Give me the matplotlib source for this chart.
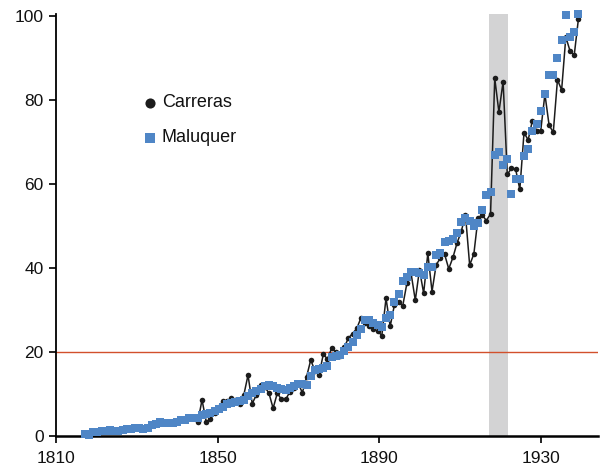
import matplotlib
matplotlib.use("Agg")
import matplotlib.pyplot as plt

plt.rcParams['font.family'] = ['Liberation Sans', 'DejaVu Sans']

# Maluquer index, 1817-1935
mal_years = list(range(1817, 1936))
mal_values = [
    0.5, 0.3, 1.0, 0.9, 1.2, 1.3, 1.4, 1.3, 1.1, 1.5,   # 1817-1826
    1.7, 1.7, 1.8, 1.8, 1.7, 1.9, 2.6, 2.8, 3.3, 3.2,   # 1827-1836
    3.0, 3.2, 3.4, 3.7, 3.9, 4.4, 4.3, 4.2, 5.1, 5.3,   # 1837-1846
    5.5, 6.0, 6.4, 6.8, 7.5, 7.9, 8.2, 8.4, 8.6, 9.6,   # 1847-1856
    10.2, 10.6, 11.1, 11.8, 12.2, 11.9, 11.5, 11.2, 11.0, 11.5,  # 1857-1866
    11.9, 12.4, 12.3, 12.1, 14.3, 15.7, 15.9, 16.3, 16.7, 18.9,  # 1867-1876
    19.1, 19.3, 20.2, 21.1, 22.4, 24.0, 25.5, 27.6, 27.5, 26.8,  # 1877-1886
    26.4, 25.9, 28.2, 28.8, 32.0, 33.9, 36.9, 37.9, 39.0, 39.0,  # 1887-1896
    38.9, 38.3, 40.2, 40.2, 43.1, 43.5, 46.1, 46.5, 47.0, 48.4,  # 1897-1906
    50.9, 51.8, 51.3, 50.0, 50.8, 53.8, 57.4, 58.0, 66.9, 67.6,  # 1907-1916
    64.5, 65.9, 57.5, 61.1, 61.1, 66.6, 68.3, 72.5, 74.2, 77.4,  # 1917-1926
    81.4, 86.0, 86.0, 89.9, 94.2, 100.2, 94.9, 96.3, 100.4,      # 1927-1935
]

# Carreras index, 1844-1935
car_years = list(range(1844, 1936))
car_values = [
    3.4, 8.6, 3.4, 4.0, 5.5, 7.0, 8.3, 8.4, 9.0, 8.5,   # 1844-1853
    7.6, 9.8, 14.5, 7.7, 9.8, 12.1, 11.7, 10.2, 6.6, 10.2,  # 1854-1863
    8.7, 8.7, 10.5, 11.5, 12.5, 10.3, 14.1, 18.1, 15.5, 14.5,  # 1864-1873
    19.5, 18.3, 20.9, 20.0, 19.0, 21.1, 23.3, 24.4, 25.6, 28.1,  # 1874-1883
    27.0, 26.2, 25.4, 25.0, 23.9, 32.8, 26.1, 31.2, 31.8, 31.0,  # 1884-1893
    36.4, 38.7, 32.3, 39.6, 34.0, 43.5, 34.4, 40.8, 42.3, 43.3,  # 1894-1903
    39.8, 42.5, 46.0, 48.7, 52.7, 40.7, 43.3, 51.9, 52.6, 51.3,  # 1904-1913
    52.9, 85.2, 77.1, 84.4, 62.3, 63.7, 63.5, 58.7, 72.2, 70.5,  # 1914-1923
    75.1, 72.7, 72.7, 81.4, 74.0, 72.3, 84.8, 82.4, 95.0, 91.7,  # 1924-1933
    90.6, 99.2,                                                  # 1934-1935
]

war_start, war_end = 1913.7, 1918.1
ref_level = 20
x_tick_labels = ['1810', '1850', '1890', '1930']
y_ticks = [0, 20, 40, 60, 80, 100]
# the reference's year labels sit slightly closer together than the data spacing
tick_stretch = 0.9677
x_ticks = [1810 + (int(t) - 1810) * tick_stretch for t in x_tick_labels]

fig = plt.figure(figsize=(6.0, 4.68), dpi=100)
ax = fig.add_axes([0.0928, 0.0684, 0.9039, 0.9019])

ax.axvspan(war_start, war_end, color='#d3d3d4', lw=0, zorder=0)
ax.axhline(ref_level, color='#d2502c', lw=1.0, zorder=1)

ax.plot(car_years, car_values, color='#1c1c1c', lw=1.1, marker='o',
        markersize=4.0, markeredgewidth=0, zorder=3, clip_on=False)
ax.plot(mal_years, mal_values, linestyle='none', marker='s', color='#4f86c6',
        markersize=6.3, markeredgewidth=0, zorder=4, clip_on=False)

ax.set_xlim(1810, 1939.7)
ax.set_ylim(0, 100.5)
ax.set_xticks(x_ticks)
ax.set_xticklabels(x_tick_labels)
ax.set_yticks(y_ticks)

for s in ['top', 'right']:
    ax.spines[s].set_visible(False)
ax.spines['left'].set_linewidth(1.3)
ax.spines['bottom'].set_linewidth(1.8)
ax.tick_params(axis='both', direction='out', length=5, width=1.3,
               labelsize=12.5, colors='#111111')
ax.tick_params(axis='x', pad=6)

# legend
leg_x, leg_tx = 0.1739, 0.196
leg_rows = [(0.789, 'o', '#1c1c1c', 'Carreras'), (0.706, 's', '#4f86c6', 'Maluquer')]
for ly, mk, col, lab in leg_rows:
    ax.plot([leg_x], [ly], marker=mk, color=col, markersize=7.3,
            markeredgewidth=0, transform=ax.transAxes, linestyle='none')
    ax.text(leg_tx, ly, lab, transform=ax.transAxes, fontsize=13,
            va='center', ha='left', color='#111111')

fig.savefig('out.png', dpi=100)
